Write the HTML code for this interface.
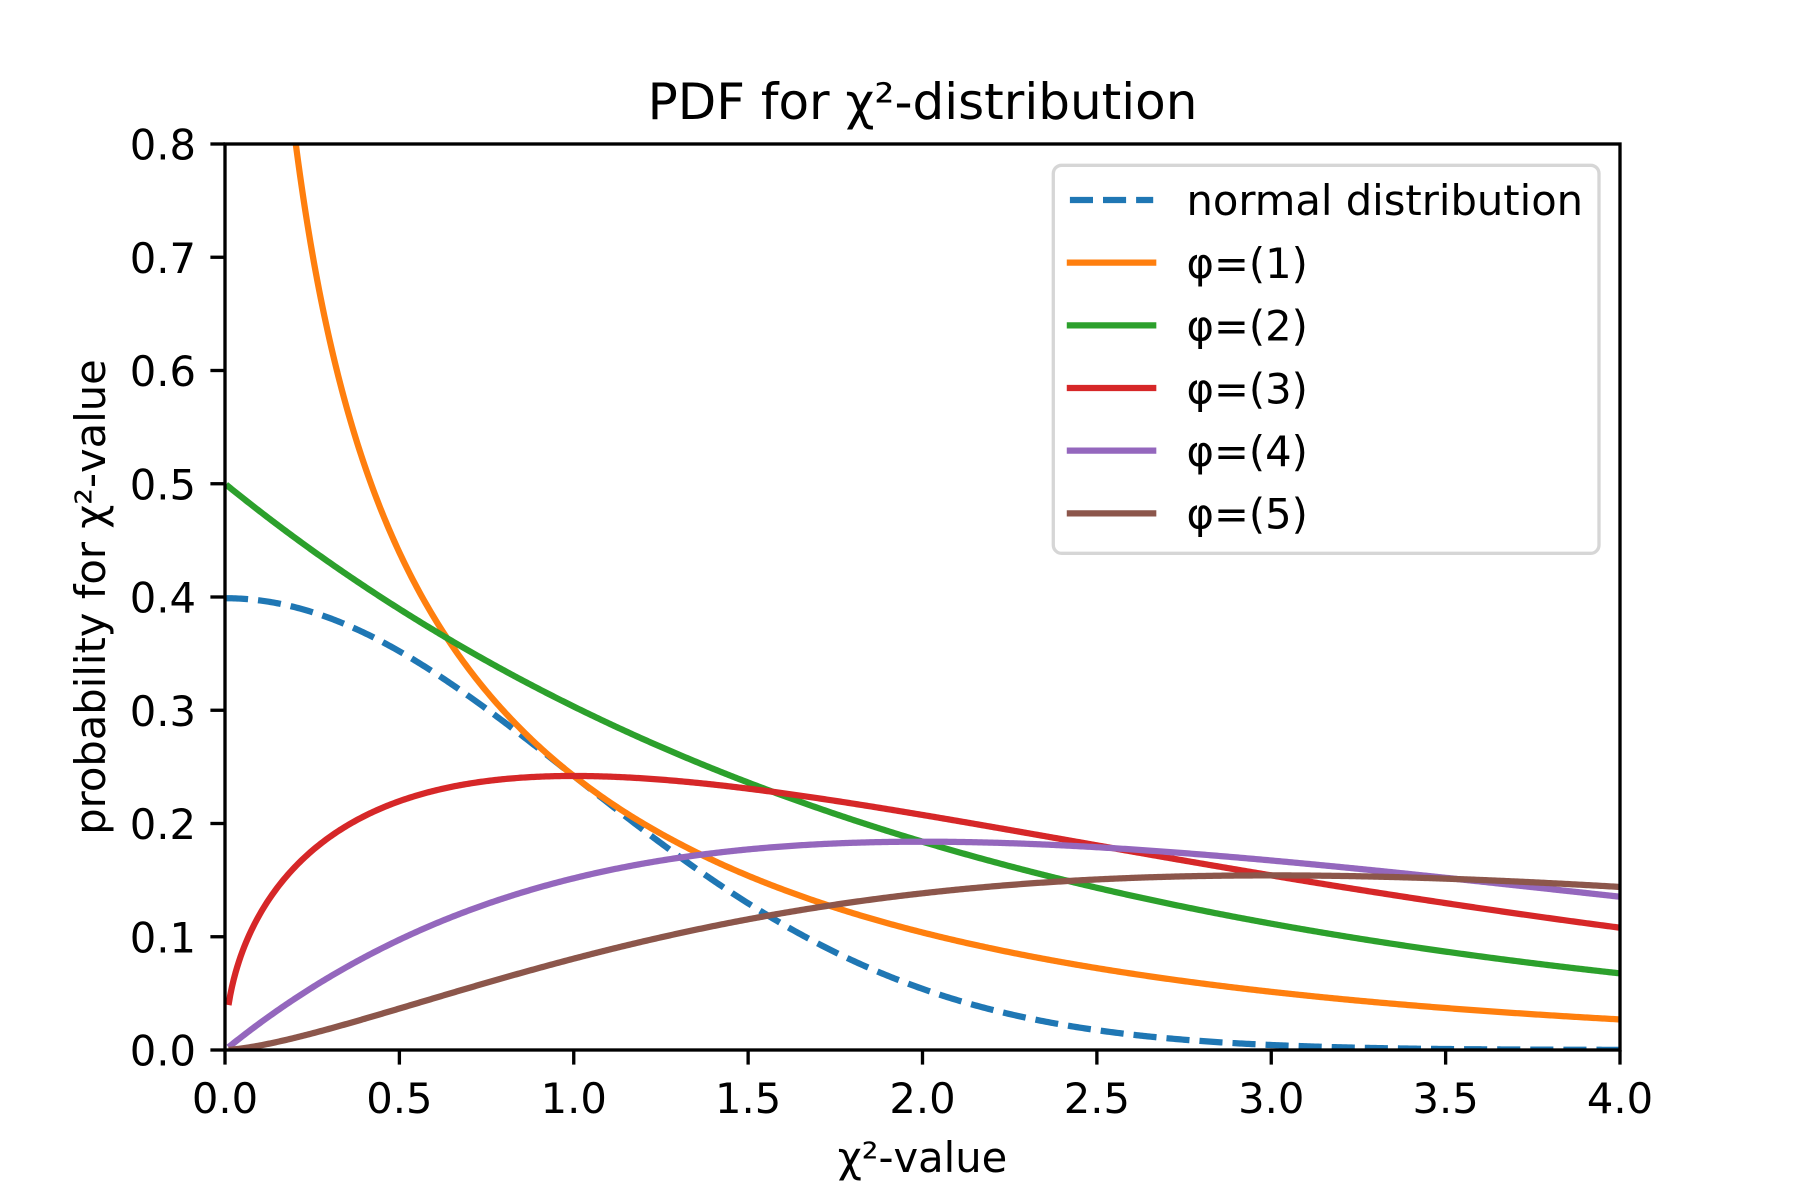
<!DOCTYPE html>
<html>
<head>
<meta charset="utf-8">
<style>
  html, body { margin:0; padding:0; background:#ffffff; }
  svg { display:block; }
  text { font-family: "DejaVu Sans", "Liberation Sans", sans-serif; fill:#000; }
</style>
</head>
<body>
<svg width="1800" height="1200" viewBox="0 0 1800 1200" xmlns="http://www.w3.org/2000/svg">
  <rect x="0" y="0" width="1800" height="1200" fill="#ffffff"/>
  <defs>
    <clipPath id="ax">
      <rect x="225" y="144" width="1395" height="906"/>
    </clipPath>
  </defs>

  <g clip-path="url(#ax)" fill="none" stroke-width="6.25" stroke-linejoin="round">
    <!-- normal distribution -->
    <polyline id="c0" stroke="#1f77b4" stroke-dasharray="23.1 10" stroke-linecap="butt"
      points="225,598.2 259.88,600.45 294.75,607.15 329.63,618.08 364.5,632.93 399.38,651.28 434.25,672.63 469.13,696.38 504,721.93 538.88,748.65 573.75,775.97 608.63,803.29 643.5,830.08 678.38,855.92 713.25,880.43 748.13,903.32 783,924.38 817.88,943.49 852.75,960.59 887.63,975.69 922.5,988.86 992.25,1009.83 1062,1024.64 1131.75,1034.62 1201.5,1041.03 1271.25,1044.98 1375.88,1048.05 1480.5,1049.31 1620,1049.85"/>
    <!-- k=1 -->
    <polyline id="c1" stroke="#ff7f0e" stroke-linecap="square"
      points="277.31,-32.26 291.26,107.41 294.75,135.88 301.73,187.09 312.19,252.57 322.65,307.72 329.63,340.02 336.6,369.41 350.55,421.04 364.5,465.13 381.94,512.19 399.38,552.39 416.81,587.26 434.25,617.9 469.13,669.47 504,711.4 538.88,746.33 573.75,775.97 608.63,801.46 643.5,823.65 713.25,860.38 783,889.51 852.75,913.08 922.5,932.47 992.25,948.61 1062,962.16 1131.75,973.64 1201.5,983.42 1271.25,991.8 1341,999.01 1410.75,1005.24 1480.5,1010.64 1550.25,1015.33 1620,1019.43"/>
    <!-- k=2 -->
    <polyline id="c2" stroke="#2ca02c" stroke-linecap="square"
      points="225,483.75 294.75,537.64 364.5,586.39 434.25,630.51 504,670.43 573.75,706.55 643.5,739.23 713.25,768.81 783,795.57 852.75,819.78 922.5,841.69 992.25,861.51 1062,879.45 1131.75,895.68 1201.5,910.36 1271.25,923.65 1341,935.68 1410.75,946.56 1480.5,956.4 1550.25,965.31 1620,973.37"/>
    <!-- k=3 -->
    <polyline id="c3" stroke="#d62728" stroke-linecap="butt"
      points="228.49,1005.04 231.98,986.74 235.46,972.91 238.95,961.43 242.44,951.47 249.41,934.58 259.88,914.1 277.31,887.66 294.75,867.18 329.63,837.01 364.5,816.05 399.38,801.2 434.25,790.74 469.13,783.63 504,779.12 538.88,776.7 573.75,775.97 643.5,778.38 713.25,784.54 783,793.21 852.75,803.56 922.5,814.94 992.25,826.93 1062,839.19 1131.75,851.46 1201.5,863.57 1271.25,875.39 1341,886.83 1410.75,897.81 1480.5,908.3 1550.25,918.27 1620,927.71"/>
    <!-- k=4 -->
    <polyline id="c4" stroke="#9467bd" stroke-linecap="butt"
      points="228.49,1047.18 259.88,1023.07 294.75,998.76 364.5,957.28 434.25,924.15 504,898.17 573.75,878.28 643.5,863.54 713.25,853.17 783,846.45 852.75,842.8 922.5,841.69 992.25,842.66 1062,845.34 1131.75,849.38 1201.5,854.51 1271.25,860.48 1341,867.08 1410.75,874.14 1480.5,881.52 1550.25,889.08 1620,896.73"/>
    <!-- k=5 -->
    <polyline id="c5" stroke="#8c564b" stroke-linecap="butt"
      points="228.49,1049.85 259.88,1045.47 294.75,1037.81 364.5,1018.81 434.25,998.15 504,977.77 573.75,958.66 643.5,941.35 713.25,926.12 783,913.05 852.75,902.13 922.5,893.3 992.25,886.42 1062,881.35 1131.75,877.93 1201.5,876 1271.25,875.39 1341,875.95 1410.75,877.52 1480.5,879.96 1550.25,883.14 1620,886.95"/>
  </g>

  <!-- spines -->
  <rect x="225" y="144" width="1395" height="906" fill="none" stroke="#000" stroke-width="3.33" stroke-linejoin="miter"/>

  <!-- x ticks -->
  <g stroke="#000" stroke-width="3.33">
    <line x1="225" y1="1050" x2="225" y2="1064.6"/>
    <line x1="399.38" y1="1050" x2="399.38" y2="1064.6"/>
    <line x1="573.75" y1="1050" x2="573.75" y2="1064.6"/>
    <line x1="748.13" y1="1050" x2="748.13" y2="1064.6"/>
    <line x1="922.5" y1="1050" x2="922.5" y2="1064.6"/>
    <line x1="1096.88" y1="1050" x2="1096.88" y2="1064.6"/>
    <line x1="1271.25" y1="1050" x2="1271.25" y2="1064.6"/>
    <line x1="1445.63" y1="1050" x2="1445.63" y2="1064.6"/>
    <line x1="1620" y1="1050" x2="1620" y2="1064.6"/>
  </g>
  <!-- y ticks -->
  <g stroke="#000" stroke-width="3.33">
    <line x1="210.4" y1="1050" x2="225" y2="1050"/>
    <line x1="210.4" y1="936.75" x2="225" y2="936.75"/>
    <line x1="210.4" y1="823.5" x2="225" y2="823.5"/>
    <line x1="210.4" y1="710.25" x2="225" y2="710.25"/>
    <line x1="210.4" y1="597" x2="225" y2="597"/>
    <line x1="210.4" y1="483.75" x2="225" y2="483.75"/>
    <line x1="210.4" y1="370.5" x2="225" y2="370.5"/>
    <line x1="210.4" y1="257.25" x2="225" y2="257.25"/>
    <line x1="210.4" y1="144" x2="225" y2="144"/>
  </g>

  <!-- x tick labels -->
  <g font-size="41.67" text-anchor="middle">
    <text x="225" y="1113">0.0</text>
    <text x="399.38" y="1113">0.5</text>
    <text x="573.75" y="1113">1.0</text>
    <text x="748.13" y="1113">1.5</text>
    <text x="922.5" y="1113">2.0</text>
    <text x="1096.88" y="1113">2.5</text>
    <text x="1271.25" y="1113">3.0</text>
    <text x="1445.63" y="1113">3.5</text>
    <text x="1620" y="1113">4.0</text>
  </g>
  <!-- y tick labels -->
  <g font-size="41.67" text-anchor="end">
    <text x="196" y="1065.5">0.0</text>
    <text x="196" y="952.25">0.1</text>
    <text x="196" y="839">0.2</text>
    <text x="196" y="725.75">0.3</text>
    <text x="196" y="612.5">0.4</text>
    <text x="196" y="499.25">0.5</text>
    <text x="196" y="386">0.6</text>
    <text x="196" y="272.75">0.7</text>
    <text x="196" y="159.5">0.8</text>
  </g>

  <!-- axis labels and title -->
  <text x="922.5" y="1172" font-size="41.67" text-anchor="middle">χ²-value</text>
  <text transform="translate(105,597) rotate(-90)" x="0" y="0" font-size="41.67" text-anchor="middle">probability for χ²-value</text>
  <text x="922.5" y="119" font-size="50" text-anchor="middle">PDF for χ²-distribution</text>

  <!-- legend -->
  <rect x="1053.3" y="165.3" width="545.7" height="388" rx="8.3" ry="8.3" fill="#ffffff" fill-opacity="0.8" stroke="#cccccc" stroke-opacity="0.8" stroke-width="3.33"/>
  <g stroke-width="6.25" fill="none">
    <line x1="1069.9" y1="200" x2="1153.2" y2="200" stroke="#1f77b4" stroke-dasharray="23.1 10" stroke-linecap="butt"/>
    <line x1="1069.9" y1="262.67" x2="1153.2" y2="262.67" stroke="#ff7f0e" stroke-linecap="square"/>
    <line x1="1069.9" y1="325.33" x2="1153.2" y2="325.33" stroke="#2ca02c" stroke-linecap="square"/>
    <line x1="1069.9" y1="388" x2="1153.2" y2="388" stroke="#d62728" stroke-linecap="square"/>
    <line x1="1069.9" y1="450.67" x2="1153.2" y2="450.67" stroke="#9467bd" stroke-linecap="square"/>
    <line x1="1069.9" y1="513.33" x2="1153.2" y2="513.33" stroke="#8c564b" stroke-linecap="square"/>
  </g>
  <g font-size="41.67">
    <text x="1186.5" y="215">normal distribution</text>
    <text x="1186.5" y="278">φ=(1)</text>
    <text x="1186.5" y="340.7">φ=(2)</text>
    <text x="1186.5" y="403.3">φ=(3)</text>
    <text x="1186.5" y="466">φ=(4)</text>
    <text x="1186.5" y="528.7">φ=(5)</text>
  </g>
</svg>
<script>
(function(){
  try {
    var X = function(x){ return 225 + 348.75 * x; };
    var Y = function(y){ return 1050 - 1132.5 * y; };
    var G = {1:1.7724538509, 2:1, 3:0.8862269255, 4:1, 5:1.3293403882};
    function chi(k, x){ return Math.pow(x, k/2 - 1) * Math.exp(-x/2) / (Math.pow(2, k/2) * G[k]); }
    function build(f, x0){
      var pts = [];
      for (var i = 0; ; i++) {
        var x = x0 + i * 0.005;
        if (x > 4.0000001) break;
        var y = f(x);
        var py = Y(y);
        if (py < -200) py = -200;
        pts.push(X(x).toFixed(2) + "," + py.toFixed(2));
      }
      return pts.join(" ");
    }
    document.getElementById("c0").setAttribute("points", build(function(x){ return 0.3989422804 * Math.exp(-x*x/2); }, 0));
    for (var k = 1; k <= 5; k++) {
      (function(k){
        document.getElementById("c" + k).setAttribute("points", build(function(x){ return chi(k, x); }, 0.01));
      })(k);
    }
  } catch (e) {}
})();
</script>
</body>
</html>
